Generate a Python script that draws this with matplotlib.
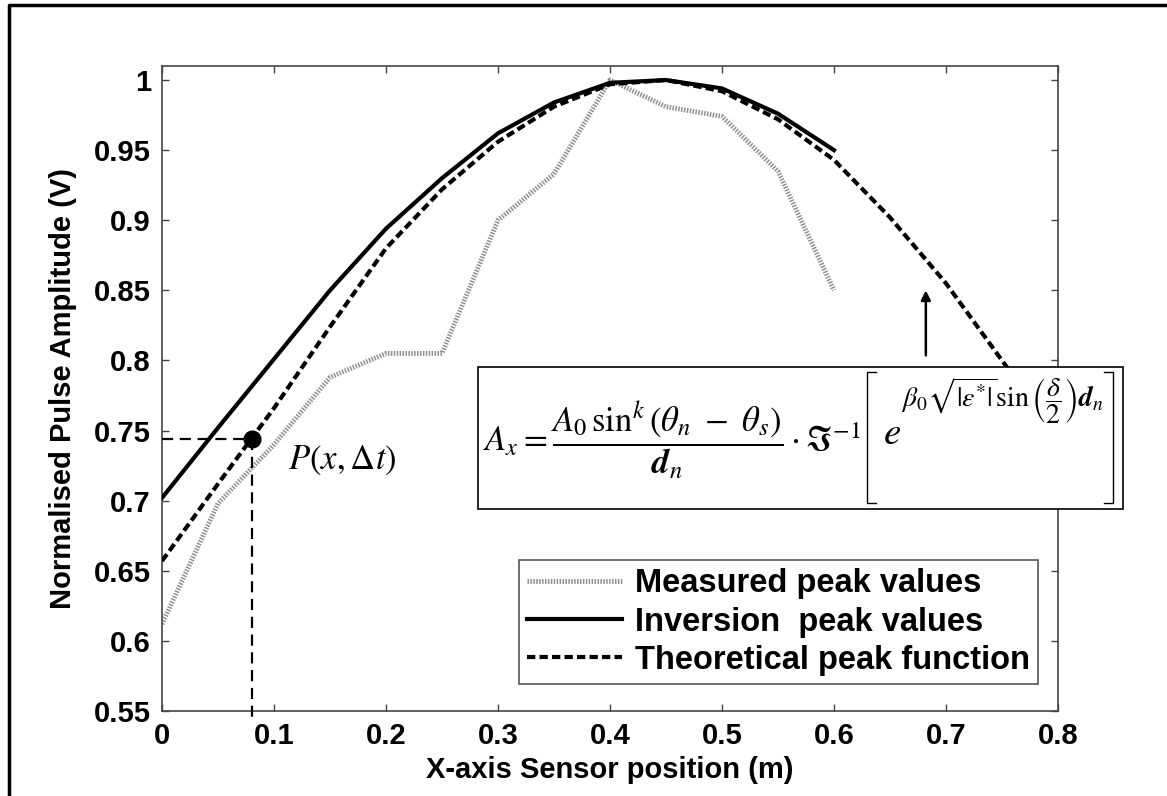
import numpy as np
import matplotlib
matplotlib.use('Agg')
import matplotlib.pyplot as plt
from matplotlib.lines import Line2D
from matplotlib.patches import Rectangle

plt.rcParams['font.family'] = 'Liberation Sans'
plt.rcParams['mathtext.fontset'] = 'stix'

# sensor positions (m) and normalised peak amplitudes (V)
xPos = [0, 0.05, 0.1, 0.15, 0.2, 0.25, 0.3, 0.35, 0.4, 0.45, 0.5, 0.55, 0.6]
measured = [0.612, 0.698, 0.740, 0.788, 0.805, 0.805, 0.900, 0.933, 1.000,
            0.981, 0.974, 0.935, 0.850]
inversion = [0.702, 0.752, 0.801, 0.850, 0.894, 0.930, 0.962, 0.984, 0.998,
             1.000, 0.994, 0.976, 0.950]
xTheory = [0, 0.05, 0.1, 0.15, 0.2, 0.25, 0.3, 0.35, 0.4, 0.45, 0.5, 0.55,
           0.6, 0.65, 0.7, 0.75, 0.8]
theoretical = [0.657, 0.712, 0.766, 0.824, 0.880, 0.922, 0.956, 0.981, 0.997,
               1.000, 0.992, 0.972, 0.943, 0.902, 0.855, 0.800, 0.745]

# marked point P(x, dt)
px, py = 0.08, 0.744

labels = ['Measured peak values', 'Inversion  peak values',
          'Theoretical peak function']
xTickLabels = ['0', '0.1', '0.2', '0.3', '0.4', '0.5', '0.6', '0.7', '0.8']
yTickLabels = ['0.55', '0.6', '0.65', '0.7', '0.75', '0.8', '0.85', '0.9',
               '0.95', '1']

W, H = 1167, 796
fig = plt.figure(figsize=(W/100, H/100), dpi=100)
ax = fig.add_axes([162/W, 1-711/H, (1058-162)/W, (711-66)/H])

ax.plot(xPos, measured, color='#8c8c8c', lw=3.5, dashes=(0.3, 0.3),
        dash_capstyle='butt', label=labels[0], zorder=2)
ax.plot(xPos, inversion, color='black', lw=3, label=labels[1], zorder=3)
ax.plot(xTheory, theoretical, color='black', lw=3, dashes=(2, 1),
        label=labels[2], zorder=3)

# guide lines to P
ax.plot([0, px], [py, py], color='black', lw=1.6, dashes=(5, 3), zorder=4)
ax.plot([px, px], [py, 0.545], color='black', lw=1.6, dashes=(5, 3),
        clip_on=False, zorder=4)
ax.plot([px], [py], 'o', color='black', ms=12, zorder=5)
ax.text(0.1125, 0.729, r'$P\left(x,\Delta t\right)$', fontsize=25,
        va='center', ha='left')

ax.annotate('', xy=(0.682, 0.85), xytext=(0.682, 0.8036),
            arrowprops=dict(arrowstyle='-|>', lw=1.8, color='black',
                            mutation_scale=14, shrinkA=0, shrinkB=0))

ax.set_xlim(0, 0.8)
ax.set_ylim(0.55, 1.01)
ax.set_xticks(np.arange(0, 0.81, 0.1))
ax.set_xticklabels(xTickLabels, fontweight='bold')
ax.set_yticks(np.arange(0.55, 1.001, 0.05))
ax.set_yticklabels(yTickLabels, fontweight='bold')
ax.tick_params(direction='in', top=True, right=True, length=5, width=1,
               labelsize=21, pad=8, color='#444444')
for s in ax.spines.values():
    s.set_color('#444444')
    s.set_linewidth(1.2)

ax.set_xlabel('X-axis Sensor position (m)', fontsize=21, fontweight='bold',
              labelpad=4)
ax.set_ylabel('Normalised Pulse Amplitude (V)', fontsize=21,
              fontweight='bold', labelpad=12)

leg = ax.legend(loc='lower right', bbox_to_anchor=(0.978, 0.042),
                borderaxespad=0, prop={'size': 23.5, 'weight': 'bold'},
                handlelength=2.9, handletextpad=0.4, labelspacing=0.22,
                borderpad=0.25, fancybox=False, framealpha=1)
leg.get_frame().set_edgecolor('#555555')
leg.get_frame().set_linewidth(1.2)

# equation box
fig.add_artist(Rectangle((478/W, 1-509/H), (1123-478)/W, (509-367)/H,
                         transform=fig.transFigure, facecolor='white',
                         edgecolor='black', lw=1.2, zorder=5))
fig.text(483/W, 1-440/H,
         r'$A_x = \dfrac{A_0\,\sin^k\left(\theta_n\ -\ \theta_s\right)}'
         r'{\mathbfit{d}_n}\cdot\Im^{-1}$',
         fontsize=25, va='center', ha='left', zorder=6)
fig.text(883/W, 1-444/H, r'$e$', fontsize=28, va='baseline', ha='left',
         zorder=6)
fig.text(901/W, 1-401/H,
         r'$\beta_0\sqrt{|\varepsilon^{*}|}\sin\left(\dfrac{\delta}{2}\right)'
         r'\mathbfit{d}_n$',
         fontsize=20, va='center', ha='left', zorder=6)
# square brackets round the exponential
for bx, sgn in [(867, 1), (1113, -1)]:
    xs = [(bx + sgn*9)/W, bx/W, bx/W, (bx + sgn*9)/W]
    ys = [1-372/H, 1-372/H, 1-503/H, 1-503/H]
    fig.add_artist(Line2D(xs, ys, color='black', lw=1.0, zorder=6))

# outer frame
fig.add_artist(Line2D([9/W, 9/W, 1], [0, 1-5/H, 1-5/H], color='black',
                      lw=2.5, zorder=7))

fig.savefig('out.png', dpi=100)
